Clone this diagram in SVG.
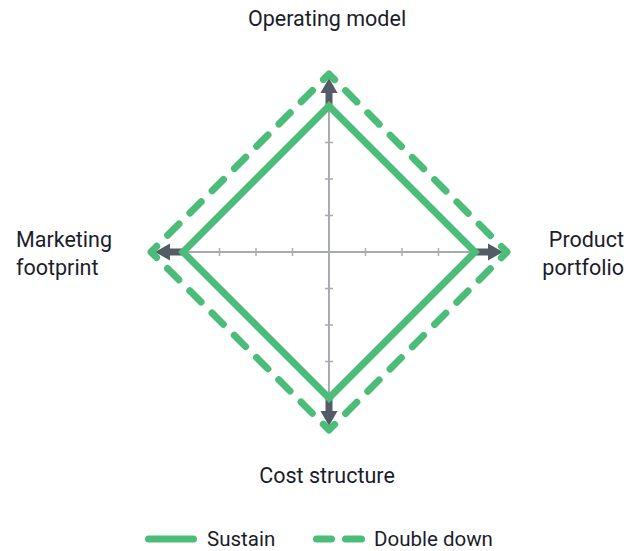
<svg xmlns="http://www.w3.org/2000/svg" width="637" height="551" viewBox="0 0 637 551">
  <style>
    .lbl { font-family: Roboto, "Liberation Sans", sans-serif; font-size: 21.5px; fill: #1b1d2b; }
    .leg-lbl { font-family: Roboto, "Liberation Sans", sans-serif; font-size: 20.5px; fill: #1b1d2b; }
    .axis { stroke: #a8acb2; stroke-width: 2; fill: none; }
    .tick { stroke: #a8acb2; stroke-width: 1.5; }
    .arrow-shaft { stroke: #535b66; stroke-width: 7; }
    .arrow-head { fill: #535b66; }
    .sustain { stroke: #4bbd79; stroke-width: 7; fill: none; stroke-linejoin: miter; }
    .double { stroke: #4bbd79; stroke-width: 7; fill: none; stroke-linecap: round; stroke-linejoin: round; stroke-dasharray: 16 15.47; stroke-dashoffset: 8; }
    .leg { stroke: #4bbd79; stroke-width: 7; stroke-linecap: round; }
  </style>
  <g id="connectors">
    <g id="axes">
      <line class="axis" x1="183" y1="252" x2="475" y2="252"/>
      <line class="axis" x1="329" y1="106" x2="329" y2="398"/>
      <g id="ticks">
        <line class="tick" x1="219.5" y1="248" x2="219.5" y2="256"/>
        <line class="tick" x1="256" y1="248" x2="256" y2="256"/>
        <line class="tick" x1="292.5" y1="248" x2="292.5" y2="256"/>
        <line class="tick" x1="365.5" y1="248" x2="365.5" y2="256"/>
        <line class="tick" x1="402" y1="248" x2="402" y2="256"/>
        <line class="tick" x1="438.5" y1="248" x2="438.5" y2="256"/>
        <line class="tick" x1="325" y1="142.5" x2="333" y2="142.5"/>
        <line class="tick" x1="325" y1="179" x2="333" y2="179"/>
        <line class="tick" x1="325" y1="215.5" x2="333" y2="215.5"/>
        <line class="tick" x1="325" y1="288.5" x2="333" y2="288.5"/>
        <line class="tick" x1="325" y1="325" x2="333" y2="325"/>
        <line class="tick" x1="325" y1="361.5" x2="333" y2="361.5"/>
      </g>
    </g>
    <g id="arrows">
      <line class="arrow-shaft" x1="329" y1="108" x2="329" y2="92"/>
      <polygon class="arrow-head" points="329,78 320.5,93 337.5,93"/>
      <line class="arrow-shaft" x1="329" y1="396" x2="329" y2="412"/>
      <polygon class="arrow-head" points="329,426 320.5,411 337.5,411"/>
      <line class="arrow-shaft" x1="185" y1="252" x2="169" y2="252"/>
      <polygon class="arrow-head" points="155,252 170,243.5 170,260.5"/>
      <line class="arrow-shaft" x1="473" y1="252" x2="489" y2="252"/>
      <polygon class="arrow-head" points="503,252 488,243.5 488,260.5"/>
    </g>
  </g>
  <g id="double-down">
    <path class="double" d="M329,74 L507,252 L329,430 L151,252 Z"/>
  </g>
  <g id="sustain">
    <path class="sustain" d="M329,106 L475,252 L329,398 L183,252 Z"/>
  </g>
  <g id="label-operating-model">
    <text class="lbl" x="327" y="26" text-anchor="middle">Operating model</text>
  </g>
  <g id="label-product-portfolio">
    <text class="lbl" x="624" y="247" text-anchor="end">Product</text>
    <text class="lbl" x="624" y="275" text-anchor="end">portfolio</text>
  </g>
  <g id="label-cost-structure">
    <text class="lbl" x="327" y="483" text-anchor="middle">Cost structure</text>
  </g>
  <g id="label-marketing-footprint">
    <text class="lbl" x="16" y="247">Marketing</text>
    <text class="lbl" x="16" y="275">footprint</text>
  </g>
  <g id="legend">
    <line class="leg" x1="148.5" y1="539" x2="193.5" y2="539"/>
    <text class="leg-lbl" x="207" y="546">Sustain</text>
    <line class="leg" x1="316.5" y1="539" x2="331.5" y2="539"/>
    <line class="leg" x1="345.5" y1="539" x2="361.5" y2="539"/>
    <text class="leg-lbl" x="374" y="546">Double down</text>
  </g>
</svg>
